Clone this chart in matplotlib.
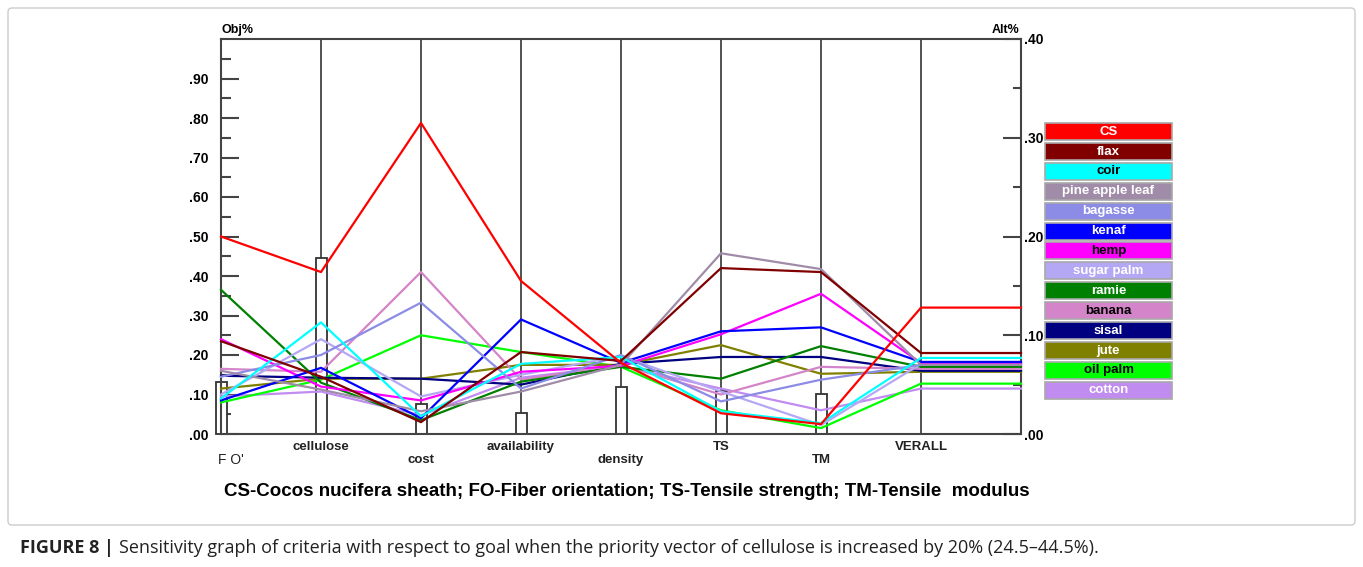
import numpy as np
import matplotlib
matplotlib.use("Agg")
import matplotlib.pyplot as plt
from matplotlib.patches import Rectangle, FancyBboxPatch

plt.rcParams['font.family'] = ['Liberation Sans', 'DejaVu Sans']

W, H = 1363, 567

# criteria along the x axis, last one is the overall result
criteria = ["F O'", "cellulose", "cost", "availability", "density", "TS", "TM", "VERALL"]
# criteria priorities (Obj%, left scale) -> white bars
crit_priority = [0.132, 0.446, 0.076, 0.052, 0.120, 0.109, 0.101]

fibres = ["CS", "flax", "coir", "pine apple leaf", "bagasse", "kenaf", "hemp",
          "sugar palm", "ramie", "banana", "sisal", "jute", "oil palm", "cotton"]
line_colours = ["#ff0000", "#800000", "#00ffff", "#a08ca8", "#8c8ce6", "#0000ff", "#ff00ff",
                "#b4a8f4", "#008000", "#d484c8", "#000080", "#808000", "#00ff00", "#c08cf0"]
label_colours = ["white", "white", "black", "white", "white", "white", "black",
                 "white", "white", "black", "white", "white", "black", "white"]

# Alt% of each fibre: FO, cellulose, cost, availability, density, TS, TM, overall
cs      = [0.200, 0.164, 0.315, 0.155, 0.072, 0.021, 0.010, 0.128]
flax    = [0.094, 0.058, 0.012, 0.083, 0.074, 0.168, 0.164, 0.082]
coir    = [0.036, 0.113, 0.018, 0.071, 0.078, 0.023, 0.011, 0.077]
pine    = [0.064, 0.045, 0.023, 0.043, 0.070, 0.183, 0.167, 0.070]
bagasse = [0.058, 0.080, 0.133, 0.046, 0.080, 0.033, 0.055, 0.070]
kenaf   = [0.034, 0.067, 0.016, 0.116, 0.072, 0.104, 0.108, 0.073]
hemp    = [0.096, 0.048, 0.034, 0.063, 0.069, 0.101, 0.142, 0.072]
sugar   = [0.040, 0.096, 0.038, 0.060, 0.079, 0.043, 0.009, 0.071]
ramie   = [0.146, 0.052, 0.014, 0.053, 0.068, 0.056, 0.089, 0.068]
banana  = [0.066, 0.063, 0.164, 0.055, 0.070, 0.040, 0.068, 0.066]
sisal   = [0.059, 0.057, 0.056, 0.050, 0.071, 0.078, 0.078, 0.064]
jute    = [0.046, 0.056, 0.056, 0.070, 0.070, 0.090, 0.061, 0.063]
oilpalm = [0.032, 0.055, 0.100, 0.083, 0.068, 0.024, 0.006, 0.051]
cotton  = [0.038, 0.043, 0.019, 0.057, 0.069, 0.046, 0.024, 0.046]
series = [cs, flax, coir, pine, bagasse, kenaf, hemp, sugar, ramie, banana, sisal, jute, oilpalm, cotton]

fig = plt.figure(figsize=(W / 100, H / 100), dpi=100)

# pixel -> figure fraction helpers
def fx(px):
    return px / W

def fy(py):
    return 1 - py / H

ax = fig.add_axes([fx(221), fy(434), fx(1021) - fx(221), fy(39) - fy(434)])
ax.set_xlim(0, 8)
ax.set_ylim(0, 1)
axc = '#444444'
for s in ax.spines.values():
    s.set_color(axc)
    s.set_linewidth(1.5)

ax.set_xticks([])
ax.set_yticks(np.arange(0, 0.95, 0.1))
ax.set_yticklabels([f"{v:.2f}"[1:] for v in np.arange(0, 0.95, 0.1)], fontweight='bold', fontsize=10)
ax.set_yticks(np.arange(0.05, 1.0, 0.1), minor=True)
ax.tick_params(axis='y', which='major', direction='in', length=13, width=1.5, color=axc, pad=9)
ax.tick_params(axis='y', which='minor', direction='in', length=7, width=1.5, color=axc)

# vertical criterion axes
ax.vlines(np.arange(1, 8), 0, 1, color=axc, lw=1.3, zorder=1)

# criteria priority bars
bw = 0.11
for i, p in enumerate(crit_priority):
    ax.add_patch(Rectangle((i - bw / 2, 0), bw, p, facecolor='white', edgecolor='#333333',
                           lw=1.3, zorder=2, clip_on=False))

# alternatives on the right (Alt%) scale
ax2 = ax.twinx()
ax2.set_ylim(0, 0.4)
ax2.set_xlim(0, 8)
for s in ax2.spines.values():
    s.set_visible(False)
ax2.set_yticks([0, 0.1, 0.2, 0.3, 0.4])
ax2.set_yticklabels(['.00', '.10', '.20', '.30', '.40'], fontweight='bold', fontsize=10)
ax2.set_yticks([0.05, 0.15, 0.25, 0.35], minor=True)
ax2.tick_params(axis='y', which='major', direction='in', length=13, width=1.5, color=axc, pad=2)
ax2.tick_params(axis='y', which='minor', direction='in', length=6, width=1.5, color=axc)

xs = np.arange(len(criteria) + 1)
for vals, col in reversed(list(zip(series, line_colours))):
    ax2.plot(xs, vals + [vals[-1]], color=col, lw=1.6, zorder=3, clip_on=False)

# criterion names, staggered
for i, name in enumerate(criteria):
    if i == 0:
        ax.text(-0.03, -0.066, name, transform=ax.get_xaxis_transform(), ha='left', va='center',
                fontsize=10, color='#222222')
    else:
        yy = -0.033 if i % 2 == 1 else -0.066
        ax.text(i, yy, name, transform=ax.get_xaxis_transform(), ha='center', va='center',
                fontsize=9.5, fontweight='bold', color='#222222')

fig.text(fx(222), fy(30), "Obj%", ha='left', va='center', fontsize=9, fontweight='bold')
fig.text(fx(1019), fy(30), "Alt%", ha='right', va='center', fontsize=9, fontweight='bold')

# overlay in pixel units for legend, frame and captions
ov = fig.add_axes([0, 0, 1, 1], zorder=-1)
ov.set_xlim(0, W)
ov.set_ylim(H, 0)
ov.axis('off')

for i, (name, col, tcol) in enumerate(zip(fibres, line_colours, label_colours)):
    top = 123 + i * 19.9
    ov.add_patch(Rectangle((1045, top), 127, 17, facecolor=col, edgecolor='#a8a8a8', lw=1.2))
    ov.text(1108.5, top + 8.7, name, ha='center', va='center', color=tcol,
            fontsize=9.5, fontweight='bold')

ov.add_patch(FancyBboxPatch((8, 8), 1347, 517, boxstyle="round,pad=0,rounding_size=4",
                            facecolor='none', edgecolor='#cccccc', lw=1))

fig.text(fx(627), fy(492), "CS-Cocos nucifera sheath; FO-Fiber orientation; TS-Tensile strength; TM-Tensile  modulus",
         ha='center', va='center', fontsize=13.5, fontweight='bold')

t1 = fig.text(fx(20), fy(548), "FIGURE 8 |", ha='left', va='center', fontsize=13,
              fontweight='bold', color='#222222', family=['Open Sans', 'DejaVu Sans'])
ov.annotate("Sensitivity graph of criteria with respect to goal when the priority vector of cellulose "
            "is increased by 20% (24.5\u201344.5%).", xy=(1, 0.5), xycoords=t1, xytext=(4, 0),
            textcoords='offset points', ha='left', va='center', fontsize=13, color='#222222',
            family=['Open Sans', 'DejaVu Sans'], annotation_clip=False)

fig.savefig("out.png", dpi=100)
